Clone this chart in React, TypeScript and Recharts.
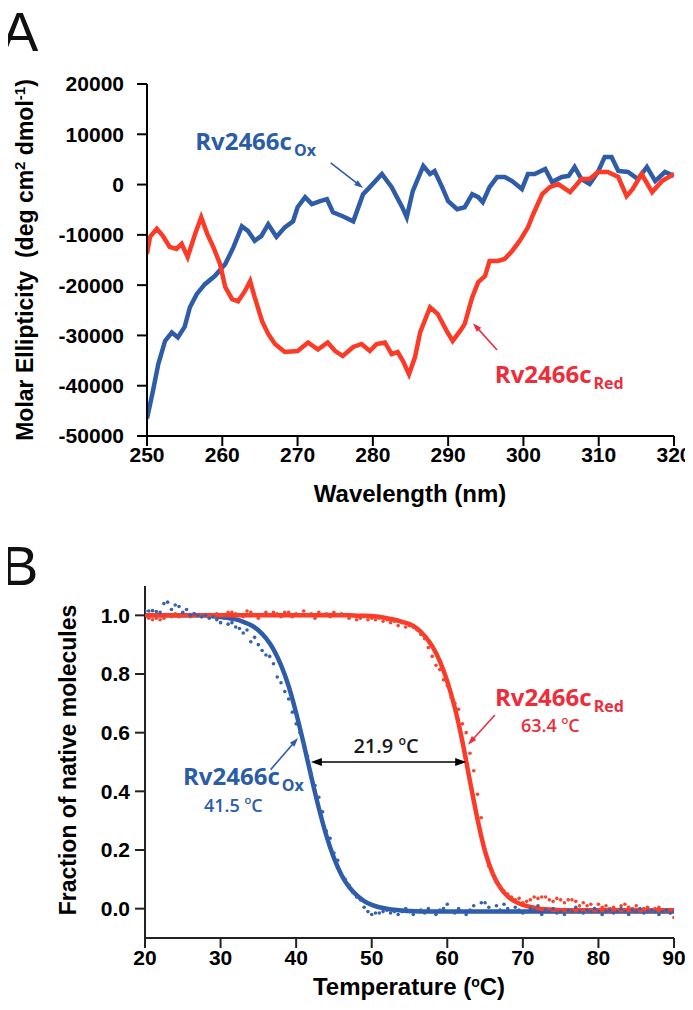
import React from 'react';
import {
  LineChart, ComposedChart, Line, Scatter, XAxis, YAxis, ReferenceLine, ReferenceDot,
} from 'recharts';

// ---- panel A: CD spectra ----
const oxWavelength = [
  250.0, 250.7, 251.5, 252.4, 253.3, 254.1, 255.0, 255.7, 256.6, 257.7, 259.0, 260.4, 261.5, 262.6,
  263.4, 264.3, 265.2, 266.1, 267.2, 268.3, 269.4, 270.0, 271.0, 271.9, 273.0, 273.9, 274.7, 276.0,
  277.4, 278.7, 279.6, 281.2, 282.5, 283.9, 284.5, 285.3, 286.7, 287.6, 288.2, 289.2, 290.0, 291.2,
  292.2, 293.2, 294.0, 294.6, 295.5, 296.5, 297.5, 298.5, 299.8, 300.6, 301.5, 302.9, 303.8, 305.1,
  306.0, 306.8, 307.7, 308.8, 309.9, 310.8, 311.7, 312.6, 313.9, 315.2, 316.4, 317.5, 318.8, 320.0,
];
const oxEllipticity = [
  -46500, -41700, -35700, -31100, -29400, -30400, -28300, -24400, -21800, -19800, -18200, -15800, -12400, -8300,
  -9200, -11200, -10200, -7900, -10400, -8500, -7300, -4500, -2500, -3900, -3300, -2900, -5500, -6300,
  -7300, -1900, -500, 2100, -500, -4500, -6500, -1300, 3700, 2100, 2700, -500, -3300, -4900,
  -4500, -1900, -2500, -3500, -500, 1500, 1500, 700, -900, 2100, 2100, 3100, 500, 1500,
  1700, 3500, 1100, 100, 2500, 5500, 5500, 2700, 2500, 1100, 3500, 700, 2500, 1700,
];
const redWavelength = [
  250.0, 250.4, 251.3, 252.1, 253.0, 253.9, 254.6, 255.4, 256.4, 257.2, 258.0, 258.8, 259.7, 260.4,
  261.3, 262.1, 263.0, 263.7, 264.3, 265.3, 266.1, 267.0, 268.3, 270.0, 271.4, 272.7, 274.0, 275.0,
  276.0, 277.4, 278.5, 279.6, 280.5, 281.6, 282.5, 283.3, 284.0, 284.8, 285.6, 286.3, 287.6, 288.6,
  289.8, 290.6, 291.6, 292.2, 293.2, 294.0, 294.9, 295.5, 296.6, 297.5, 298.5, 299.5, 300.6, 301.3,
  302.5, 303.5, 304.6, 306.2, 307.7, 308.8, 309.9, 311.2, 312.6, 313.7, 314.5, 315.7, 317.1, 318.4, 320.0,
];
const redEllipticity = [
  -13800, -10400, -8800, -10200, -12400, -12800, -11800, -14400, -9800, -6500, -9800, -12400, -15800, -20400,
  -22800, -23200, -21200, -19200, -22400, -27200, -29700, -31700, -33300, -33100, -31400, -32800, -31400, -33100,
  -34100, -32300, -31700, -33100, -31700, -31400, -33700, -33300, -35100, -37700, -34300, -29300, -24400, -25700,
  -29100, -31100, -29100, -27700, -22400, -19400, -18200, -15200, -15200, -14800, -13200, -11200, -8500, -5900,
  -1900, -500, 100, -1500, 1100, 1100, 2500, 2500, 1500, -2300, -900, 2100, -1500, 700, 2100,
];
const wavelengthTicks = [250, 260, 270, 280, 290, 300, 310, 320];
const ellipticityTicks = [-50000, -40000, -30000, -20000, -10000, 0, 10000, 20000];

// ---- panel B: thermal unfolding ----
const scatterTemps = [
  20, 20.5, 21, 21.5, 22, 22.5, 23, 23.5, 24, 24.5, 25, 25.5, 26, 26.5, 27, 27.5, 28, 28.5, 29, 29.5,
  30, 30.5, 31, 31.5, 32, 32.5, 33, 33.5, 34, 34.5, 35, 35.5, 36, 36.5, 37, 37.5, 38, 38.5, 39, 39.5,
  40, 40.5, 41, 41.5, 42, 42.5, 43, 43.5, 44, 44.5, 45, 45.5, 46, 46.5, 47, 47.5, 48, 48.5, 49, 49.5,
  50, 50.5, 51, 51.5, 52, 52.5, 53, 53.5, 54, 54.5, 55, 55.5, 56, 56.5, 57, 57.5, 58, 58.5, 59, 59.5,
  60, 60.5, 61, 61.5, 62, 62.5, 63, 63.5, 64, 64.5, 65, 65.5, 66, 66.5, 67, 67.5, 68, 68.5, 69, 69.5,
  70, 70.5, 71, 71.5, 72, 72.5, 73, 73.5, 74, 74.5, 75, 75.5, 76, 76.5, 77, 77.5, 78, 78.5, 79, 79.5,
  80, 80.5, 81, 81.5, 82, 82.5, 83, 83.5, 84, 84.5, 85, 85.5, 86, 86.5, 87, 87.5, 88, 88.5, 89, 89.5, 90,
];
const oxFraction = [
  1.015, 1.015, 1.016, 1.013, 1.01, 1.04, 1.045, 1.02, 1.035, 1.03,
  1.01, 1.02, 1.0, 1.005, 1.0, 0.995, 1.0, 0.99, 0.995, 0.985,
  0.975, 0.99, 0.97, 0.975, 0.96, 0.955, 0.94, 0.95, 0.91, 0.925,
  0.9, 0.88, 0.865, 0.86, 0.835, 0.79, 0.77, 0.74, 0.715, 0.67,
  0.63, 0.6, 0.565, 0.52, 0.46, 0.42, 0.38, 0.33, 0.265, 0.24,
  0.19, 0.165, 0.115, 0.1, 0.08, 0.055, 0.04, 0.03, 0.005, -0.01,
  -0.02, -0.015, -0.015, -0.01, -0.005, -0.015, -0.01, -0.02, -0.01, 0.0,
  -0.01, -0.02, -0.01, -0.005, -0.015, 0.0, -0.01, -0.02, -0.005, 0.0,
  0.015, -0.01, -0.015, 0.0, -0.01, -0.02, -0.005, 0.01, -0.01, 0.02,
  0.02, 0.005, -0.01, 0.01, -0.005, 0.015, 0.0, -0.01, 0.005, -0.005,
  -0.015, -0.01, 0.0, -0.005, 0.01, -0.02, -0.005, -0.01, 0.0, -0.015,
  -0.01, -0.02, -0.005, -0.01, 0.005, -0.01, -0.015, -0.005, -0.01, 0.0,
  -0.01, -0.02, -0.01, -0.005, -0.015, -0.01, 0.0, -0.01, -0.02, -0.005,
  -0.01, 0.0, -0.015, -0.01, -0.005, -0.01, -0.02, -0.01, -0.005, -0.015,
  -0.01,
];
const redFraction = [
  1.0, 0.99, 0.985, 0.99, 0.985, 0.99, 1.0, 0.995, 1.005, 0.995,
  1.0, 1.0, 0.995, 1.005, 1.0, 0.995, 1.0, 0.995, 1.0, 1.005,
  1.0, 0.995, 1.01, 1.01, 1.005, 1.0, 0.995, 1.015, 1.01, 1.0,
  0.99, 1.0, 1.01, 1.0, 1.01, 1.005, 0.995, 1.01, 1.01, 0.995,
  1.005, 1.0, 1.015, 1.0, 1.005, 0.99, 1.01, 1.0, 1.005, 0.995,
  1.01, 1.0, 1.005, 1.0, 0.99, 1.0, 0.985, 0.99, 0.995, 0.985,
  0.99, 0.985, 0.99, 0.98, 0.985, 0.975, 0.98, 0.965, 0.975, 0.96,
  0.965, 0.96, 0.95, 0.935, 0.92, 0.89, 0.86, 0.83, 0.815, 0.78,
  0.76, 0.72, 0.7, 0.68, 0.63, 0.6, 0.53, 0.47, 0.39, 0.31,
  0.2, 0.145, 0.12, 0.09, 0.075, 0.06, 0.05, 0.04, 0.03, 0.035,
  0.02, 0.025, 0.03, 0.04, 0.035, 0.04, 0.04, 0.03, 0.025, 0.035,
  0.03, 0.02, 0.03, 0.03, 0.025, 0.01, 0.02, 0.01, 0.015, 0.0,
  0.015, 0.005, 0.01, 0.0, 0.005, -0.005, 0.01, 0.015, 0.005, 0.0,
  0.01, -0.005, 0.0, 0.005, -0.005, 0.0, 0.005, -0.01, -0.005, -0.015,
  -0.03,
];
const fitTemps = [
  20, 21, 22, 23, 24, 25, 26, 27, 28, 29, 30, 31, 32, 33, 34, 35, 36, 37, 38, 39,
  40, 41, 42, 43, 44, 45, 46, 47, 48, 49, 50, 51, 52, 53, 54, 55, 56, 57, 58, 59,
  60, 61, 62, 63, 64, 65, 66, 67, 68, 69, 70, 71, 72, 73, 74, 75, 76, 77, 78, 79,
  80, 81, 82, 83, 84, 85, 86, 87, 88, 89, 90,
];
const oxFit = [
  1, 1, 1, 1, 1, 1, 1, 1, 1, 0.997,
  0.994, 0.991, 0.986, 0.978, 0.967, 0.949, 0.922, 0.884, 0.83, 0.759,
  0.667, 0.562, 0.45, 0.343, 0.249, 0.173, 0.115, 0.074, 0.046, 0.026,
  0.013, 0.005, 0.0, -0.004, -0.006, -0.008, -0.009, -0.01, -0.01, -0.01,
  -0.01, -0.01, -0.01, -0.01, -0.01, -0.01, -0.01, -0.01, -0.01, -0.01,
  -0.01, -0.01, -0.01, -0.01, -0.01, -0.01, -0.01, -0.01, -0.01, -0.01,
  -0.01, -0.01, -0.01, -0.01, -0.01, -0.01, -0.01, -0.01, -0.01, -0.01,
  -0.01,
];
const redFit = [
  1, 1, 1, 1, 1, 1, 1, 1, 1, 1,
  1, 1, 1, 1, 1, 1, 1, 1, 1, 1,
  1, 1, 1, 1, 1, 1, 1, 1, 0.999, 0.999,
  0.998, 0.995, 0.99, 0.985, 0.978, 0.97, 0.955, 0.93, 0.895, 0.845,
  0.775, 0.685, 0.57, 0.435, 0.305, 0.195, 0.12, 0.072, 0.042, 0.024,
  0.013, 0.006, 0.001, -0.002, -0.004, -0.005, -0.005, -0.005, -0.005, -0.005,
  -0.005, -0.005, -0.005, -0.005, -0.005, -0.005, -0.005, -0.005, -0.005, -0.005,
  -0.005,
];
const tempTicks = [20, 30, 40, 50, 60, 70, 80, 90];
const fractionTicks = [0, 0.2, 0.4, 0.6, 0.8, 1.0];

const BLUE = '#2f5ca8';
const RED = '#fb3b27';
const BLUE_TEXT = '#2b5ca8';
const RED_TEXT = '#ee2c3a';
const AXIS_FONT = '"Liberation Sans", Arial, sans-serif';
const NOTE_FONT = '"Open Sans", "Noto Sans", sans-serif';

const oxSpectrum = oxWavelength.map((wl, i) => ({ wl, v: oxEllipticity[i] }));
const redSpectrum = redWavelength.map((wl, i) => ({ wl, v: redEllipticity[i] }));
const oxPoints = scatterTemps.map((t, i) => ({ t, v: oxFraction[i] }));
const redPoints = scatterTemps.map((t, i) => ({ t, v: redFraction[i] }));
const oxFitRows = fitTemps.map((t, i) => ({ t, v: oxFit[i] }));
const redFitRows = fitTemps.map((t, i) => ({ t, v: redFit[i] }));

const tickStyle = { fill: '#000', fontSize: 21, fontWeight: 700, fontFamily: AXIS_FONT };

function arrow(color: string, width: number, headLen: number, headW: number, both = false) {
  return (p: any) => {
    const { x1, y1, x2, y2 } = p;
    const a = Math.atan2(y2 - y1, x2 - x1);
    const head = (x: number, y: number, ang: number) => {
      const bx = x - headLen * Math.cos(ang);
      const by = y - headLen * Math.sin(ang);
      const nx = (-Math.sin(ang) * headW) / 2;
      const ny = (Math.cos(ang) * headW) / 2;
      return `${x},${y} ${bx + nx},${by + ny} ${bx - nx},${by - ny}`;
    };
    const sx = both ? x1 + headLen * 0.7 * Math.cos(a) : x1;
    const sy = both ? y1 + headLen * 0.7 * Math.sin(a) : y1;
    const ex = x2 - headLen * 0.7 * Math.cos(a);
    const ey = y2 - headLen * 0.7 * Math.sin(a);
    return (
      <g>
        <line x1={sx} y1={sy} x2={ex} y2={ey} stroke={color} strokeWidth={width} />
        <polygon points={head(x2, y2, a)} fill={color} />
        {both && <polygon points={head(x1, y1, a + Math.PI)} fill={color} />}
      </g>
    );
  };
}

function Degrees({ value }: { value: string }) {
  return (
    <>
      {value + ' '}
      <tspan fontSize="0.62em" dy={-8}>o</tspan>
      <tspan dy={8}>C</tspan>
    </>
  );
}

// species name with subscript, optionally a melting temperature on a second line
function speciesLabel(sub: string, color: string, temp?: string, dx2 = 0, dy2 = 0) {
  return (p: any) => (
    <g>
      <text x={p.cx} y={p.cy} fill={color} fontFamily={NOTE_FONT} fontWeight={700} fontSize={24}>
        Rv2466c
        <tspan fontSize={16} dx={2} dy={6}>{sub}</tspan>
      </text>
      {temp && (
        <text x={p.cx + dx2} y={p.cy + dy2} fill={color} fontFamily={NOTE_FONT} fontWeight={600} fontSize={18}>
          <Degrees value={temp} />
        </text>
      )}
    </g>
  );
}

function SpectrumPanel() {
  return (
    <LineChart width={693} height={520} margin={{ top: 84, right: 19, bottom: 54, left: 0 }}>
      <XAxis dataKey="wl" type="number" domain={[250, 320]} ticks={wavelengthTicks} allowDataOverflow
        tick={tickStyle} tickSize={10} tickMargin={1} height={30}
        axisLine={{ stroke: '#000', strokeWidth: 2 }} tickLine={{ stroke: '#000', strokeWidth: 2 }} />
      <XAxis xAxisId="top" orientation="top" type="number" domain={[250, 320]} height={0}
        tick={false} tickLine={false} axisLine={{ stroke: '#000', strokeWidth: 1.5 }} />
      <YAxis type="number" domain={[-50000, 20000]} ticks={ellipticityTicks} allowDataOverflow
        tick={tickStyle} tickSize={10} tickMargin={13} width={147}
        axisLine={{ stroke: '#000', strokeWidth: 2 }} tickLine={{ stroke: '#000', strokeWidth: 2 }} />
      <YAxis yAxisId="right" orientation="right" type="number" domain={[-50000, 20000]} width={0}
        tick={false} tickLine={false} axisLine={{ stroke: '#000', strokeWidth: 1.5 }} />
      <Line data={oxSpectrum} dataKey="v" stroke={BLUE} strokeWidth={4.5} dot={false}
        type="linear" isAnimationActive={false} />
      <Line data={redSpectrum} dataKey="v" stroke={RED} strokeWidth={4.5} dot={false}
        type="linear" isAnimationActive={false} />
      <ReferenceLine segment={[{ x: 274.4, y: 4300 }, { x: 278.7, y: -700 }]}
        shape={arrow(BLUE, 1.6, 9, 6)} />
      <ReferenceLine segment={[{ x: 296.5, y: -32900 }, { x: 293.3, y: -27560 }]}
        shape={arrow(RED_TEXT, 1.6, 9, 6)} />
      <ReferenceDot x={256.4} y={6870} shape={speciesLabel('Ox', BLUE_TEXT)} />
      <ReferenceDot x={296.2} y={-39460} shape={speciesLabel('Red', RED_TEXT)} />
    </LineChart>
  );
}

function dot(color: string) {
  return (p: any) => <circle cx={p.cx} cy={p.cy} r={1.8} fill={color} />;
}

function MeltPanel() {
  return (
    <ComposedChart width={693} height={470} margin={{ top: 46, right: 19, bottom: 42, left: 0 }}>
      <XAxis dataKey="t" type="number" domain={[20, 90]} ticks={tempTicks} allowDataOverflow
        tick={tickStyle} tickSize={10} tickMargin={2} height={30}
        axisLine={{ stroke: '#222', strokeWidth: 2 }} tickLine={{ stroke: '#222', strokeWidth: 2 }} />
      <XAxis xAxisId="top" orientation="top" type="number" domain={[20, 90]} height={0}
        tick={false} tickLine={false} axisLine={{ stroke: '#333', strokeWidth: 1.5 }} />
      <YAxis type="number" domain={[-0.1, 1.1]} ticks={fractionTicks} allowDataOverflow
        tickFormatter={(v: number) => v.toFixed(1)}
        tick={tickStyle} tickSize={10} tickMargin={5} width={145}
        axisLine={{ stroke: '#222', strokeWidth: 2 }} tickLine={{ stroke: '#222', strokeWidth: 2 }} />
      <YAxis yAxisId="right" orientation="right" type="number" domain={[-0.1, 1.1]} width={0}
        tick={false} tickLine={false} axisLine={{ stroke: '#333', strokeWidth: 1.5 }} />
      <Scatter data={redPoints} dataKey="v" shape={dot('#f5452f')} isAnimationActive={false} />
      <Scatter data={oxPoints} dataKey="v" shape={dot('#3461b0')} isAnimationActive={false} />
      <Line data={oxFitRows} dataKey="v" stroke={BLUE} strokeWidth={4.5} dot={false}
        type="monotone" isAnimationActive={false} />
      <Line data={redFitRows} dataKey="v" stroke={RED} strokeWidth={4.5} dot={false}
        type="monotone" isAnimationActive={false} />
      <ReferenceLine segment={[{ x: 41.95, y: 0.5 }, { x: 62.5, y: 0.5 }]}
        shape={arrow('#000', 1.5, 11, 8, true)} />
      <ReferenceLine segment={[{ x: 36.63, y: 0.474 }, { x: 40.25, y: 0.582 }]}
        shape={arrow(BLUE, 1.6, 9, 6)} />
      <ReferenceLine segment={[{ x: 66.3, y: 0.66 }, { x: 62.74, y: 0.559 }]}
        shape={arrow(RED_TEXT, 1.6, 9, 6)} />
      <ReferenceDot x={25.03} y={0.42} shape={speciesLabel('Ox', BLUE_TEXT, '41.5', 21, 27)} />
      <ReferenceDot x={66.3} y={0.69} shape={speciesLabel('Red', RED_TEXT, '63.4', 26, 26)} />
      <ReferenceDot x={51.9} y={0.531} shape={(p: any) => (
        <text x={p.cx} y={p.cy} textAnchor="middle" fill="#1a1a1a" fontFamily={NOTE_FONT}
          fontWeight={600} fontSize={20}>
          <Degrees value="21.9" />
        </text>
      )} />
    </ComposedChart>
  );
}

export default function App() {
  const title = { fontFamily: AXIS_FONT, fontWeight: 700, fontSize: 24, fill: '#000' };
  return (
    <div style={{ position: 'relative', width: 693, height: 1010, margin: -8, background: '#fff' }}>
      <div style={{ position: 'absolute', left: 0, top: 0 }}>
        <SpectrumPanel />
      </div>
      <div style={{ position: 'absolute', left: 0, top: 540 }}>
        <MeltPanel />
      </div>
      <svg width={693} height={1010} style={{ position: 'absolute', left: 0, top: 0, pointerEvents: 'none' }}>
        <text x={1} y={51} fontFamily={AXIS_FONT} fontSize={56} fill="#111">A</text>
        <text x={1} y={585} fontFamily={AXIS_FONT} fontSize={56} fill="#111">B</text>
        <text transform="translate(33,260) rotate(-90)" textAnchor="middle" style={{ whiteSpace: 'pre' }}
          {...title} fontSize={23}>
          {'Molar Ellipticity  (deg cm'}
          <tspan fontSize={15} dy={-8}>2</tspan>
          <tspan dy={8}>{' dmol'}</tspan>
          <tspan fontSize={15} dy={-8}>-1</tspan>
          <tspan dy={8}>)</tspan>
        </text>
        <text x={410} y={502} textAnchor="middle" {...title}>Wavelength (nm)</text>
        <text transform="translate(76,760) rotate(-90)" textAnchor="middle" {...title} fontSize={23}>
          Fraction of native molecules
        </text>
        <text x={409} y={995} textAnchor="middle" {...title}>
          {'Temperature ('}
          <tspan fontSize={14} dy={-8}>o</tspan>
          <tspan dy={8}>C)</tspan>
        </text>
      </svg>
    </div>
  );
}
